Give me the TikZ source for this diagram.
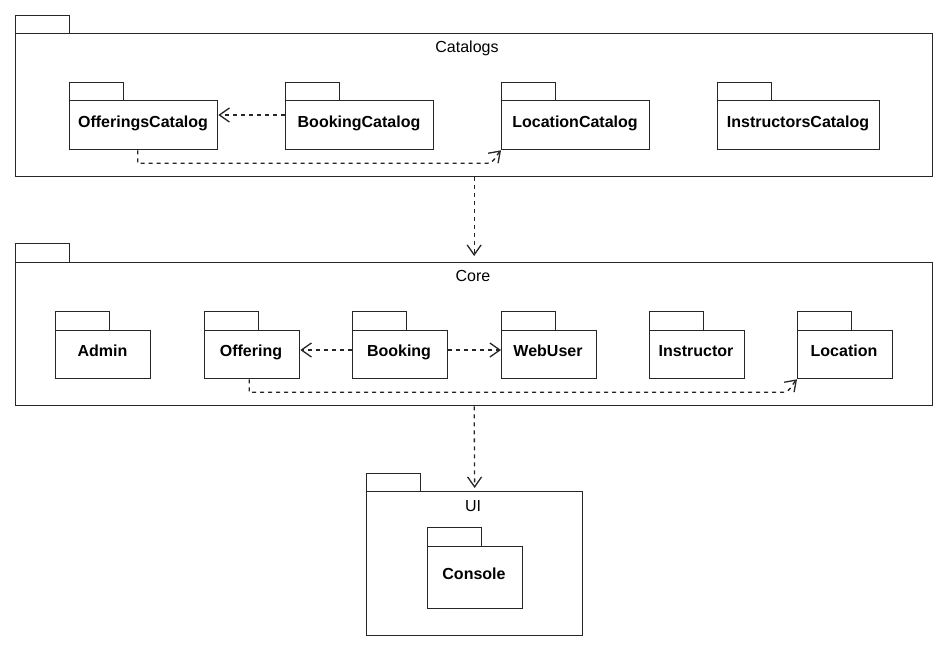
\documentclass[tikz,border=0pt]{standalone}
\usepackage{fontspec}
\setmainfont{Liberation Sans}
\usetikzlibrary{arrows.meta}
\begin{document}
\begin{tikzpicture}[x=1pt,y=-1pt,
  pline/.style={draw=black!85, line width=1.3pt},
  tab/.style={pline, anchor=north west, inner sep=0pt, minimum width=54pt, minimum height=#1},
  tab/.default=18pt,
  pbody/.style={pline, anchor=north west, inner sep=0pt},
  blbl/.style={font=\fontsize{16}{18}\selectfont\bfseries, inner sep=0pt, anchor=base},
  clbl/.style={font=\fontsize{16}{18}\selectfont, inner sep=0pt, anchor=base},
  dep/.style={draw=black!85, line width=1.3pt, dash pattern=on 4pt off 4pt, -{Straight Barb[length=10pt,width=14pt,line width=1.3pt]}}
]
\useasboundingbox (0,0) rectangle (950,646);

% Catalogs container
\node[tab] (cattab) at (15,15) {};
\node[pbody, minimum width=917pt, minimum height=143pt] (catalogs) at (15,33) {};
\node[clbl] (catlbl) at (467,52.5) {Catalogs};

\node[tab] (offcattab) at (69,82) {};
\node[pbody, minimum width=148pt, minimum height=49pt] (offcat) at (69,100) {};
\node[blbl] (offcatlbl) at (143,127) {OfferingsCatalog};

\node[tab] (bookcattab) at (285,82) {};
\node[pbody, minimum width=148pt, minimum height=49pt] (bookcat) at (285,100) {};
\node[blbl] (bookcatlbl) at (359,127) {BookingCatalog};

\node[tab] (loccattab) at (501,82) {};
\node[pbody, minimum width=148pt, minimum height=49pt] (loccat) at (501,100) {};
\node[blbl] (loccatlbl) at (575,127) {LocationCatalog};

\node[tab] (inscattab) at (717,82) {};
\node[pbody, minimum width=162pt, minimum height=49pt] (inscat) at (717,100) {};
\node[blbl] (inscatlbl) at (798,127) {InstructorsCatalog};

% Core container
\node[tab=19pt] (coretab) at (15,243) {};
\node[pbody, minimum width=917pt, minimum height=143pt] (core) at (15,262) {};
\node[clbl] (corelbl) at (473,281.5) {Core};

\node[tab=19pt] (admintab) at (55,311) {};
\node[pbody, minimum width=95pt, minimum height=48pt] (admin) at (55,330) {};
\node[blbl] (adminlbl) at (102.5,356.5) {Admin};

\node[tab=19pt] (offeringtab) at (204,311) {};
\node[pbody, minimum width=95pt, minimum height=48pt] (offering) at (204,330) {};
\node[blbl] (offeringlbl) at (251,356.5) {Offering};

\node[tab=19pt] (bookingtab) at (352,311) {};
\node[pbody, minimum width=95pt, minimum height=48pt] (booking) at (352,330) {};
\node[blbl] (bookinglbl) at (399,356.5) {Booking};

\node[tab=19pt] (webusertab) at (501,311) {};
\node[pbody, minimum width=95pt, minimum height=48pt] (webuser) at (501,330) {};
\node[blbl] (webuserlbl) at (548,356.5) {WebUser};

\node[tab=19pt] (instructortab) at (649,311) {};
\node[pbody, minimum width=95pt, minimum height=48pt] (instructor) at (649,330) {};
\node[blbl] (instructorlbl) at (696,356.5) {Instructor};

\node[tab=19pt] (locationtab) at (797,311) {};
\node[pbody, minimum width=95pt, minimum height=48pt] (location) at (797,330) {};
\node[blbl] (locationlbl) at (844,356.5) {Location};

% UI container
\node[tab] (uitab) at (366,473) {};
\node[pbody, minimum width=216pt, minimum height=144pt] (ui) at (366,491) {};
\node[clbl] (uilbl) at (473,511.7) {UI};

\node[tab=19pt] (consoletab) at (427,527) {};
\node[pbody, minimum width=95pt, minimum height=62pt] (console) at (427,546) {};
\node[blbl] (consolelbl) at (474,579) {Console};

% dependencies
\draw[dep] (bookcat.west |- 0,115) -- (offcat.east |- 0,115);
\draw[dep] ([xshift=-6pt]offcat.south) -- ++(0,13) -- ([xshift=-14pt,yshift=-13pt]loccat.south west) to[out=0,in=-135] (loccat.south west);
\draw[dep] (catalogs.south) -- ([yshift=6pt]core.north);
\draw[dep] (booking.west |- 0,350) -- (offering.east |- 0,350);
\draw[dep] (booking.east |- 0,350) -- (webuser.west |- 0,350);
\draw[dep] ([xshift=-3pt]offering.south) -- ++(0,13) -- ([xshift=-14pt,yshift=-13pt]location.south west) to[out=0,in=-135] (location.south west);
\draw[dep] (core.south) -- ([yshift=3pt]ui.north);
\end{tikzpicture}
\end{document}
